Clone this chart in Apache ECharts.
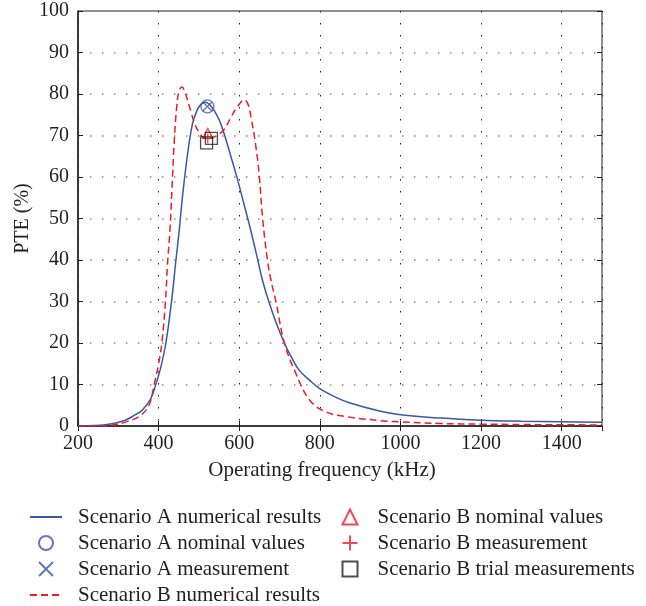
<!DOCTYPE html>
<html>
<head>
<meta charset="utf-8">
<script src="https://cdn.jsdelivr.net/npm/echarts@6/dist/echarts.min.js"></script>
<style>
  html, body { margin: 0; padding: 0; background: #fff; }
  #chart { width: 646px; height: 606px; }
</style>
</head>
<body>
<div id="chart"></div>
<script>
// frequency (kHz) -> PTE (%)
const scenarioANumerical = [
  [200, 0], [240, 0.1], [280, 0.5], [317, 1.4], [340, 2.6], [359, 3.8], [380, 6.5],
  [393, 10], [405, 14], [418, 20], [432, 30], [443, 40], [451, 47], [460, 56],
  [472, 65.6], [484, 72.8], [495, 76], [505, 77.5], [515, 78], [525, 77.6],
  [538, 76], [551, 73.6], [563, 70.3], [580, 64.7], [596, 59.3], [613, 53],
  [629, 47], [646, 40], [658, 35], [675, 29.5], [693, 24.5], [712, 20],
  [730, 16.5], [749, 13.4], [775, 11], [800, 9], [840, 6.9], [873, 5.6],
  [948, 3.6], [1000, 2.7], [1100, 1.9], [1200, 1.4], [1300, 1.15], [1400, 1.0], [1500, 0.9]
];
const scenarioBNumerical = [
  [200, 0], [260, 0], [290, 0.3], [320, 1.0], [350, 2.2], [370, 4], [380, 6],
  [389, 10], [400, 15], [408, 20], [417, 30], [422, 39], [428, 47], [433, 57],
  [439, 69], [445, 77], [451, 80.9], [458, 81.7], [465, 80.5], [472, 78.5],
  [480, 75.8], [489, 73], [500, 70.8], [515, 69.3], [530, 69.4], [545, 70],
  [563, 71.5], [580, 74.5], [596, 77], [613, 78.6], [622, 77.5], [629, 74.5],
  [641, 67.5], [650, 60], [658, 50], [670, 40], [679, 35], [691, 30], [712, 20],
  [740, 12.8], [775, 6.2], [815, 3.4], [870, 2.2], [950, 1.3], [1000, 1.0],
  [1100, 0.6], [1200, 0.45], [1300, 0.35], [1400, 0.3], [1500, 0.25]
];
const scenarioANominal = [[521, 77]];
const scenarioAMeasurement = [[521, 77]];
const scenarioBNominal = [[522, 70.5]];
const scenarioBMeasurement = [[522, 69.3]];
const scenarioBTrial = [[519, 68.2], [531, 69.3]];

const xTicks = { min: 200, max: 1500, interval: 200 };
const yTicks = { min: 0, max: 100, interval: 10 };

const blue = '#3a56a8';
const red = '#ee1c25';
const ink = '#231f20';
const font = '"Liberation Serif", "DejaVu Serif", serif';

const chart = echarts.init(document.getElementById('chart'));

const legendText = { fontFamily: font, fontSize: 21, color: ink, lineHeight: 22 };
// line entries: hide the dot ECharts puts on line icons
const noDot = { color: 'rgba(0,0,0,0)', borderWidth: 0 };

const option = {
  animation: false,
  grid: { left: 78, right: 44, top: 11, bottom: 180, show: true, borderColor: ink, borderWidth: 1 },
  legend: [
    {
      orient: 'vertical', left: 29, top: 506, padding: 0, itemWidth: 32, itemHeight: 14, itemGap: 4,
      textStyle: Object.assign({ padding: [0, 0, 0, 11] }, legendText),
      data: [
        { name: 'Scenario A numerical results', itemStyle: noDot },
        'Scenario A nominal values',
        'Scenario A measurement',
        { name: 'Scenario B numerical results', itemStyle: noDot }
      ]
    },
    {
      orient: 'vertical', left: 340, top: 506, padding: 0, itemWidth: 15, itemHeight: 15, itemGap: 4,
      textStyle: Object.assign({ padding: [0, 0, 0, 15] }, legendText),
      data: ['Scenario B nominal values', 'Scenario B measurement', 'Scenario B trial measurements']
    }
  ],
  xAxis: [
    {
      type: 'value', min: xTicks.min, max: xTicks.max, interval: xTicks.interval,
      name: 'Operating frequency (kHz)', nameLocation: 'middle', nameGap: 34, nameMoveOverlap: false,
      nameTextStyle: { fontFamily: font, fontSize: 21, color: ink, padding: [0, 36, 0, 0] },
      axisLine: { show: true, lineStyle: { color: ink, width: 1.5 } },
      axisTick: { inside: true, length: 5, lineStyle: { color: ink } },
      axisLabel: { fontFamily: font, fontSize: 20, color: ink, margin: 8, showMaxLabel: false,
        formatter: v => String(v) },
      splitLine: { show: true, lineStyle: { color: '#222', width: 1, type: [1.5, 10.5] } }
    },
    {
      type: 'value', position: 'top', min: xTicks.min, max: xTicks.max, interval: xTicks.interval,
      axisLine: { show: false }, axisLabel: { show: false }, splitLine: { show: false },
      axisTick: { inside: true, length: 5, lineStyle: { color: ink } }
    }
  ],
  yAxis: [
    {
      type: 'value', min: yTicks.min, max: yTicks.max, interval: yTicks.interval,
      name: 'PTE (%)', nameLocation: 'middle', nameGap: 45, nameMoveOverlap: false,
      nameTextStyle: { fontFamily: font, fontSize: 20, color: ink },
      axisLine: { show: true, lineStyle: { color: ink, width: 1.5 } },
      axisTick: { show: true, inside: true, length: 5, lineStyle: { color: ink } },
      axisLabel: { fontFamily: font, fontSize: 20, color: ink, margin: 9 },
      splitLine: { show: true, lineStyle: { color: '#8a8a8a', width: 1.5, type: [1.5, 10.5] } }
    },
    {
      type: 'value', position: 'right', min: yTicks.min, max: yTicks.max, interval: yTicks.interval,
      axisLine: { show: false }, axisLabel: { show: false }, splitLine: { show: false },
      axisTick: { show: true, inside: true, length: 5, lineStyle: { color: ink } }
    }
  ],
  series: [
    {
      name: 'Scenario A numerical results', type: 'line', data: scenarioANumerical,
      symbol: 'none', smooth: 0.4,
      lineStyle: { color: blue, width: 1.5 }, itemStyle: { color: blue }, z: 3
    },
    {
      name: 'Scenario A nominal values', type: 'scatter', data: scenarioANominal,
      symbol: 'circle', symbolSize: 13, symbolKeepAspect: true,
      itemStyle: { color: 'none', borderColor: blue, borderWidth: 1.3 }, z: 5
    },
    {
      name: 'Scenario A measurement', type: 'scatter', data: scenarioAMeasurement,
      symbol: 'path://M0,0L10,10M10,0L0,10', symbolSize: 9, symbolKeepAspect: true,
      itemStyle: { color: 'none', borderColor: blue, borderWidth: 1.3 }, z: 5
    },
    {
      name: 'Scenario B numerical results', type: 'line', data: scenarioBNumerical,
      symbol: 'none', smooth: 0.4,
      lineStyle: { color: red, width: 1.5, type: [7, 4] }, itemStyle: { color: red }, z: 4
    },
    {
      name: 'Scenario B nominal values', type: 'scatter', data: scenarioBNominal,
      symbol: 'triangle', symbolSize: 10, symbolKeepAspect: true,
      itemStyle: { color: 'none', borderColor: red, borderWidth: 1.3 }, z: 5
    },
    {
      name: 'Scenario B measurement', type: 'scatter', data: scenarioBMeasurement,
      symbol: 'path://M5,0L5,10M0,5L10,5', symbolSize: 10, symbolKeepAspect: true,
      itemStyle: { color: 'none', borderColor: red, borderWidth: 1.3 }, z: 5
    },
    {
      name: 'Scenario B trial measurements', type: 'scatter', data: scenarioBTrial,
      symbol: 'rect', symbolSize: 12, symbolKeepAspect: true,
      itemStyle: { color: 'none', borderColor: ink, borderWidth: 1.3 }, z: 6
    }
  ]
};

chart.setOption(option);
</script>
</body>
</html>
